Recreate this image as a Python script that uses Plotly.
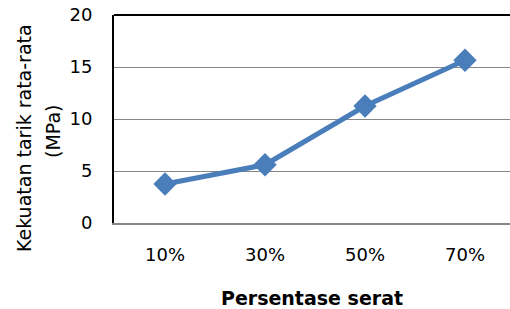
import plotly.graph_objects as go

categories = ["10%", "30%", "50%", "70%"]
values = [3.75, 5.6, 11.25, 15.65]
y_ticks = [0, 5, 10, 15, 20]

font_family = "DejaVu Sans"
blue = "#4A7EBB"

L, T, W, H = 114, 15, 396, 208

def px(x):
    return (x - L) / W

def py(y):
    return (T + H - y) / H

fig = go.Figure()
fig.add_trace(go.Scatter(
    x=categories, y=values, mode="lines+markers",
    line=dict(color=blue, width=5),
    marker=dict(symbol="diamond", size=18, color=blue),
    showlegend=False,
))

fig.update_layout(
    width=510, height=309,
    margin=dict(l=L, r=510 - L - W, t=T, b=309 - T - H),
    paper_bgcolor="white", plot_bgcolor="white",
    font=dict(family=font_family, size=18, color="black"),
    xaxis=dict(
        type="category", range=[-0.51, 3.45], automargin=False,
        showgrid=False, showline=True, linecolor="#868686", linewidth=2,
        ticks="", ticklabelstandoff=14,
        title=dict(text="<b>Persentase serat</b>", standoff=28, font=dict(size=19)),
        fixedrange=True,
    ),
    yaxis=dict(
        range=[0, 20], tickvals=y_ticks, automargin=False,
        showgrid=True, gridcolor="#868686", gridwidth=1,
        showline=True, linecolor="black", linewidth=2,
        zeroline=False, ticks="", ticklabelstandoff=16,
        fixedrange=True,
    ),
    shapes=[dict(type="line", xref="paper", yref="paper", x0=0, x1=1, y0=1, y1=1,
                 line=dict(color="black", width=2))],
    annotations=[
        dict(text="Kekuatan tarik rata-rata", textangle=-90, xref="paper", yref="paper",
             x=px(24), y=py(138), showarrow=False, xanchor="center", yanchor="middle",
             font=dict(size=19)),
        dict(text="(MPa)", textangle=-90, xref="paper", yref="paper",
             x=px(53), y=py(132), showarrow=False, xanchor="center", yanchor="middle",
             font=dict(size=19)),
    ],
)

fig.write_html("out.html", config={"displayModeBar": False},
               post_script="document.body.style.margin='0';document.body.style.padding='0';")
